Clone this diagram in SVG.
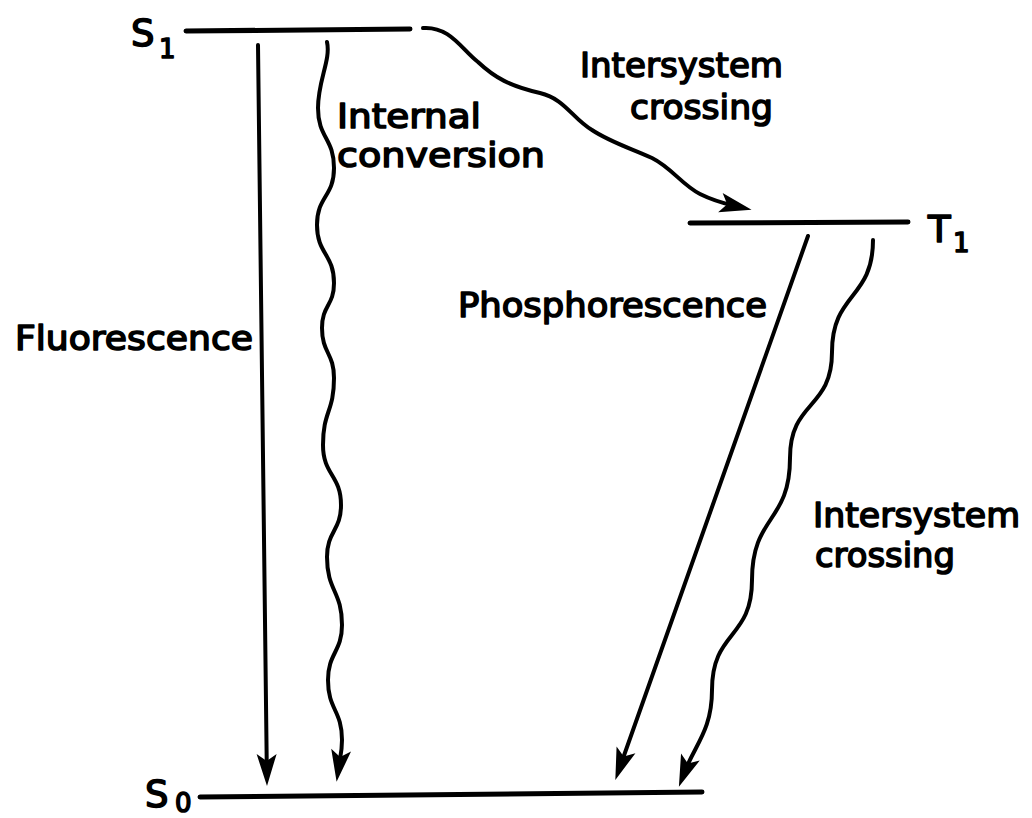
<svg xmlns="http://www.w3.org/2000/svg" width="1032" height="818" viewBox="0 0 1032 818">
<style>
.lvl{stroke:#000;stroke-width:5;stroke-linecap:round;fill:none}
.con{stroke:#000;stroke-width:4;stroke-linecap:round;fill:none;marker-end:url(#ah)}
.lbl{font-family:"DejaVu Sans",Verdana,sans-serif;font-size:34px;fill:#000;stroke:#000;stroke-width:1.6;stroke-linejoin:round}
.sym{font-family:"DejaVu Sans",Verdana,sans-serif;font-size:37px;fill:#000;stroke:#000;stroke-width:1.6;stroke-linejoin:round}
.sub{font-family:"DejaVu Sans",Verdana,sans-serif;font-size:26px;fill:#000;stroke:#000;stroke-width:1.6;stroke-linejoin:round}
</style>
<defs>
<marker id="ah" markerUnits="userSpaceOnUse" viewBox="-34 -12 36 24" refX="-17" refY="0" markerWidth="36" markerHeight="24" orient="auto">
<path d="M0,0 L-32,-10 L-25,0 L-32,10 Z" fill="#000"/>
</marker>
</defs>
<rect width="1032" height="818" fill="#fff"/>
<g id="S1">
<line class="lvl" x1="186" y1="31" x2="410" y2="29"/>
<text class="sym" x="131" y="46">S</text>
<text class="sub" x="159" y="58">1</text>
</g>
<g id="T1">
<line class="lvl" x1="690" y1="223" x2="908" y2="222"/>
<text class="sym" x="928" y="242">T</text>
<text class="sub" x="953" y="252">1</text>
</g>
<g id="S0">
<line class="lvl" x1="200" y1="797" x2="702" y2="792"/>
<text class="sym" x="145" y="807">S</text>
<text class="sub" x="175" y="812">0</text>
</g>
<g id="connectors">
<path id="fluorescence" class="con" d="M258,45 L266.8,769"/>
<path id="internal-conversion" class="con" d="M327,42 C331,60 318,80 318,108 C318,138 334,138 334,168 C334,197 317,196 317,225 C317,254 334,254 334,283 C334,306 322,305 322,328 C322,353 334,353 334,378 C334,412 323,411 323,445 C323,475 341,475 341,505 C341,531 327,531 327,557 C327,591 342,591 342,625 C342,652 328,653 328,680 C328,710 342,710 342,740 C342,752 340,758 339,765"/>
<path id="isc-s1-t1" class="con" d="M423,28 C450,26 462,50 478,62 C495,78 510,86 540,93 C565,99 572,118 592,130 C610,142 630,148 652,158 C672,168 682,185 700,194 C712,200 722,203 735,206"/>
<path id="phosphorescence" class="con" d="M808,236 L621,764"/>
<path id="isc-t1-s0" class="con" d="M873,240 C873,300 832,292 832,352 C832,410 790,400 790,458 C790,523 752,515 752,580 C752,640 712,630 712,690 C712,730 695,745 685,771"/>
</g>
<g id="labels">
<text class="lbl" x="580" y="77" textLength="203" lengthAdjust="spacingAndGlyphs">Intersystem</text>
<text class="lbl" x="630" y="119" textLength="143" lengthAdjust="spacingAndGlyphs">crossing</text>
<text class="lbl" x="337" y="128" textLength="144" lengthAdjust="spacingAndGlyphs">Internal</text>
<text class="lbl" x="337" y="167" textLength="208" lengthAdjust="spacingAndGlyphs">conversion</text>
<text class="lbl" x="458" y="317" textLength="309" lengthAdjust="spacingAndGlyphs">Phosphorescence</text>
<text class="lbl" x="15" y="350" textLength="238" lengthAdjust="spacingAndGlyphs">Fluorescence</text>
<text class="lbl" x="813" y="527" textLength="207" lengthAdjust="spacingAndGlyphs">Intersystem</text>
<text class="lbl" x="815" y="567" textLength="140" lengthAdjust="spacingAndGlyphs">crossing</text>
</g>
</svg>
